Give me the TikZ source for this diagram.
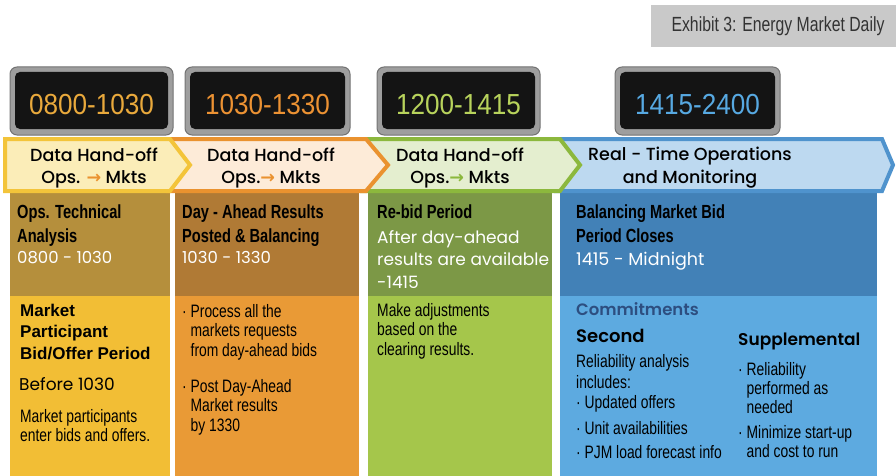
\documentclass[tikz,border=0pt]{standalone}
\usepackage{fontspec}
\usepackage{xcolor}
\usepackage{tikz}
\usetikzlibrary{positioning}
\setmainfont{Liberation Sans}
\newfontfamily\condfont[FakeStretch=0.77]{Liberation Sans}
\newfontfamily\clockfont[FakeStretch=0.9]{Liberation Sans}
\newfontfamily\gothfont{Poppins}
\newfontfamily\gothmed{Poppins Medium}
\newfontfamily\gothsemi{Poppins SemiBold}
\newfontfamily\symfont{DejaVu Sans}
\definecolor{egold}{HTML}{F2BE35}
\definecolor{egolddk}{HTML}{B58F3C}
\definecolor{eorange}{HTML}{E99A36}
\definecolor{eorangedk}{HTML}{B07A35}
\definecolor{egreen}{HTML}{A5C64B}
\definecolor{egreendk}{HTML}{7C9846}
\definecolor{eblue}{HTML}{5DAAE0}
\definecolor{ebluedk}{HTML}{4281B7}
\definecolor{cyellow}{HTML}{FBEDB8}
\definecolor{cpeach}{HTML}{FDEBD8}
\definecolor{cgreen}{HTML}{E4EECF}
\definecolor{cblue}{HTML}{BDD9F0}
\definecolor{lyellow}{HTML}{F3C43A}
\definecolor{lorange}{HTML}{EA922F}
\definecolor{lgreen}{HTML}{8CB83D}
\definecolor{lblue}{HTML}{4F93CD}
\definecolor{dgold}{HTML}{E9A93C}
\definecolor{dorange}{HTML}{EC9233}
\definecolor{dgreen}{HTML}{B8D35C}
\definecolor{dblue}{HTML}{57A9E2}
\definecolor{commitblue}{HTML}{2D4E80}
\definecolor{titlegray}{HTML}{C9C9C9}
\definecolor{titletext}{HTML}{333333}

\tikzset{
  hdr/.style={anchor=base west, inner sep=0pt, align=left, text=black,
    font=\condfont\bfseries\fontsize{19}{23.5}\selectfont},
  hdrtime/.style={anchor=base west, inner sep=0pt, align=left, text=white,
    font=\gothfont\fontsize{16.5}{22.5}\selectfont},
  bodytxt/.style={anchor=base west, inner sep=0pt, align=left, text=black,
    font=\condfont\fontsize{18}{19.5}\selectfont},
  chevtxt/.style={anchor=base, inner sep=0pt, align=center, text=black,
    font=\gothmed\fontsize{17.5}{21.5}\selectfont},
  clockdigits/.style={anchor=base, inner sep=0pt, font=\clockfont\fontsize{29}{29}\selectfont},
  bezel/.style={fill=black!38, draw=black!55, line width=1pt, rounded corners=7pt},
  screen/.style={fill=black!92, rounded corners=5pt},
  chevron/.style={line width=4pt, line join=miter},
}

\begin{document}
\begin{tikzpicture}[x=1pt, y=-1pt]
    \useasboundingbox (0,0) rectangle (896,476);

    % Title
    \fill[titlegray] (651,5) rectangle (896,47);
    \node[anchor=base, inner sep=0pt, text=titletext, font=\condfont\fontsize{20.5}{20.5}\selectfont] (title) at (778,32) {Exhibit 3: Energy Market Daily};

    % Clocks
    \filldraw[bezel] (10,67) rectangle (173,135);
    \fill[screen] (15,72) rectangle (168,129);
    \node[clockdigits, text=dgold] (clk1) at (91.5,114) {0800-1030};

    \filldraw[bezel] (185,67) rectangle (350,135);
    \fill[screen] (190,72) rectangle (345,129);
    \node[clockdigits, text=dorange] (clk2) at (267.5,114) {1030-1330};

    \filldraw[bezel] (377,67) rectangle (540,135);
    \fill[screen] (382,72) rectangle (535,129);
    \node[clockdigits, text=dgreen] (clk3) at (458.5,114) {1200-1415};

    \filldraw[bezel] (615,67) rectangle (780,135);
    \fill[screen] (620,72) rectangle (775,129);
    \node[clockdigits, text=dblue] (clk4) at (697.5,114) {1415-2400};

    % Columns
    \fill[egold] (10,193) rectangle (170,476);
    \fill[egolddk] (10,193) rectangle (170,296);
    \fill[eorange] (175,193) rectangle (359,476);
    \fill[eorangedk] (175,193) rectangle (359,296);
    \fill[egreen] (368,193) rectangle (552,476);
    \fill[egreendk] (368,193) rectangle (552,296);
    \fill[eblue] (560,193) rectangle (877,476);
    \fill[ebluedk] (560,193) rectangle (877,296);

    % Chevrons, right to left so each covers the next one's end
    \filldraw[chevron, fill=cblue, draw=lblue] (556,139) -- (882,139) -- (893,165) -- (882,191) -- (556,191) -- cycle;
    \filldraw[chevron, fill=cgreen, draw=lgreen] (362,139) -- (560,139) -- (580,165) -- (560,191) -- (362,191) -- cycle;
    \filldraw[chevron, fill=cpeach, draw=lorange] (168,139) -- (366,139) -- (388,165) -- (366,191) -- (168,191) -- cycle;
    \filldraw[chevron, fill=cyellow, draw=lyellow] (5,139) -- (170,139) -- (190,165) -- (170,191) -- (5,191) -- cycle;

    % last line of each text sits on the given baseline
    \node[chevtxt] (hand1) at (94,183) {Data Hand-off\\Ops. \textcolor{lorange}{\symfont\bfseries →} Mkts};
    \node[chevtxt] (hand2) at (271,183) {Data Hand-off\\Ops.\textcolor{lorange}{\symfont\bfseries →} Mkts};
    \node[chevtxt] (hand3) at (460,183) {Data Hand-off\\Ops.\textcolor{lgreen}{\symfont\bfseries →} Mkts};
    \node[chevtxt, font=\gothmed\fontsize{17.5}{23}\selectfont] (realtime) at (690,183) {Real - Time Operations\\and Monitoring};

    % Column 1
    \node[hdr] (opstech) at (17,242) {Ops. Technical\\Analysis};
    \node[hdrtime] (opstime) at (17,263) {0800 - 1030};
    \node[anchor=base west, inner sep=0pt, align=left, font=\bfseries\fontsize{17}{21.5}\selectfont] (bidoffer) at (20,359) {Market\\Participant\\Bid/Offer Period};
    \node[anchor=base west, inner sep=0pt, font=\gothfont\fontsize{17}{17}\selectfont] (before) at (19,390) {Before 1030};
    \node[bodytxt, font=\condfont\fontsize{18}{18.5}\selectfont] (enterbids) at (20,441) {Market participants\\enter bids and offers.};

    % Column 2
    \node[hdr] (dayahead) at (182,242) {Day - Ahead Results\\Posted \& Balancing};
    \node[hdrtime] (daytime) at (182,263) {1030 - 1330};
    \node[bodytxt] (process) at (182,356) {· Process all the\\\phantom{· }markets requests\\\phantom{· }from day-ahead bids};
    \node[bodytxt] (postda) at (182,431) {· Post Day-Ahead\\\phantom{· }Market results\\\phantom{· }by 1330};

    % Column 3
    \node[hdr] (rebid) at (377,218) {Re-bid Period};
    \node[hdrtime, font=\gothfont\fontsize{17}{22.5}\selectfont] (rebidtime) at (377,288) {After day-ahead\\results are available\\-1415};
    \node[bodytxt] (adjust) at (377,355) {Make adjustments\\based on the\\clearing results.};

    % Column 4
    \node[hdr, font=\condfont\bfseries\fontsize{19}{24}\selectfont] (balancing) at (576,242) {Balancing Market Bid\\Period Closes};
    \node[hdrtime, font=\gothfont\fontsize{17.5}{17.5}\selectfont] (baltime) at (576,265) {1415 - Midnight};
    \node[anchor=base west, inner sep=0pt, text=commitblue, font=\gothsemi\fontsize{16.5}{16.5}\selectfont] (commit) at (576,315) {Commitments};
    \node[anchor=base west, inner sep=0pt, font=\gothsemi\fontsize{18}{18}\selectfont] (second) at (576,342) {Second};
    \node[anchor=base west, inner sep=0pt, font=\gothsemi\fontsize{17}{17}\selectfont] (suppl) at (738,345) {Supplemental};
    \node[bodytxt, font=\condfont\fontsize{18}{21}\selectfont] (relan) at (576,388) {Reliability analysis\\includes:};
    \node[bodytxt] (offers) at (576,408) {· Updated offers};
    \node[bodytxt] (units) at (576,434) {· Unit availabilities};
    \node[bodytxt] (pjm) at (576,458) {· PJM load forecast info};
    \node[bodytxt, font=\condfont\fontsize{18}{19}\selectfont] (relperf) at (738,413) {· Reliability\\\phantom{· }performed as\\\phantom{· }needed};
    \node[bodytxt, font=\condfont\fontsize{18}{19}\selectfont] (minimize) at (738,457) {· Minimize start-up\\\phantom{· }and cost to run};
\end{tikzpicture}
\end{document}
